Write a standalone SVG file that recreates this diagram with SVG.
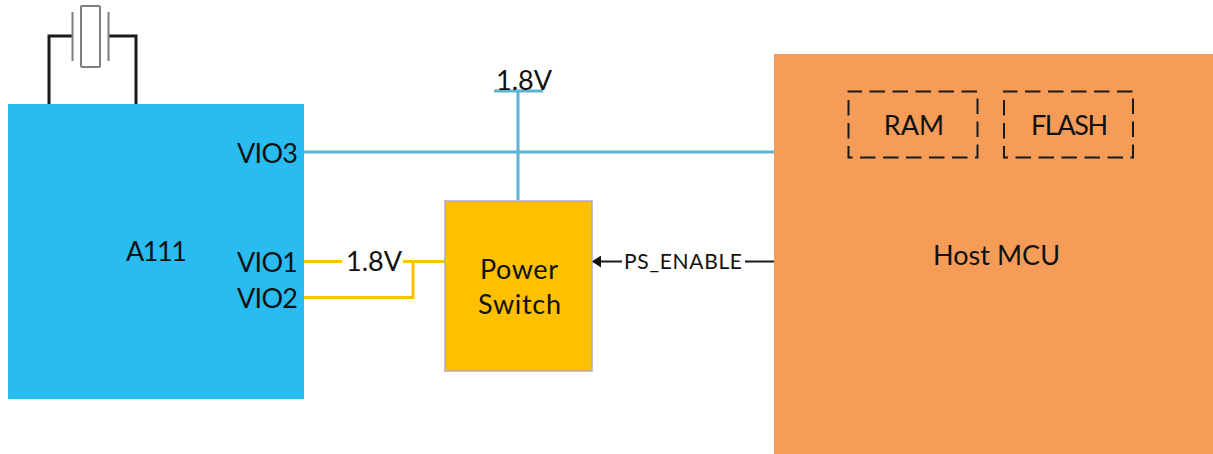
<svg xmlns="http://www.w3.org/2000/svg" width="1213" height="454" viewBox="0 0 1213 454">
<style>
text{font-family:"Lato","Open Sans",sans-serif;fill:#111;font-size:27px}
.m{text-anchor:middle}
.c{fill:none;stroke-width:3}
.blue{stroke:#5ab4d2}
.yel{stroke:#ffc000}
.blk{stroke:#1a1a1a}
.gry{stroke:#7f7f7f;fill:none}
.dash{fill:none;stroke:#1a1a1a;stroke-width:2;stroke-dasharray:15.500 7.500;stroke-dashoffset:2}
</style>
<defs><marker id="arr" markerWidth="10" markerHeight="12" refX="9" refY="6" orient="auto" markerUnits="userSpaceOnUse"><path d="M9 6L0 0V12Z" fill="#111"/></marker></defs>
<rect width="1213" height="454" fill="#fff"/>
<g id="connectors">
<path class="c blue" d="M302 152H775"/>
<path class="c blue" d="M518 200V91"/>
<path class="c blue" d="M494 91H543"/>
<path class="c yel" d="M302 261.500H342"/>
<path class="c yel" d="M403 261.500H445"/>
<path class="c yel" d="M302 297.500H413V261.500"/>
<path class="c blk" d="M49 104V36H73"/>
<path class="c blk" d="M136 104V36H109"/>
<path d="M775 261.500H745" stroke="#1a1a1a" stroke-width="2" fill="none"/>
<path d="M622 261.500H592" stroke="#1a1a1a" stroke-width="2" fill="none" marker-end="url(#arr)"/>
</g>
<g id="crystal">
<path class="gry" stroke-width="2" d="M72.500 12V61M108.500 12V61"/>
<rect class="gry" stroke-width="2" x="81" y="6" width="19" height="61" rx="1"/>
</g>
<g id="a111">
<rect x="8" y="104" width="296" height="295" fill="#29bcf1"/>
<text class="m" x="156.500" y="261" textLength="61">A111</text>
<text x="237" y="163" textLength="61">VIO3</text>
<text x="237" y="272" textLength="61">VIO1</text>
<text x="237" y="308" textLength="61">VIO2</text>
</g>
<g id="supply-label"><text class="m" x="524" y="90">1.8V</text></g>
<g id="vio-label"><text class="m" x="374" y="271">1.8V</text></g>
<g id="power-switch">
<rect x="445" y="201" width="147" height="170" fill="#ffc000" stroke="#b7a5c8" stroke-width="1.500"/>
<text class="m" x="519" y="279" textLength="78">Power</text>
<text class="m" x="519.500" y="314" textLength="83">Switch</text>
</g>
<g id="ps-enable-label"><text class="m" x="683" y="269" textLength="118" style="font-size:21px">PS_ENABLE</text></g>
<g id="host-mcu">
<rect x="774" y="54" width="439" height="400" fill="#f59d58"/>
<text class="m" x="996.500" y="265" textLength="127">Host MCU</text>
</g>
<g id="ram">
<rect class="dash" x="848.500" y="91.500" width="129" height="66"/>
<text class="m" x="914" y="135">RAM</text>
</g>
<g id="flash">
<rect class="dash" x="1004" y="91.500" width="129" height="66"/>
<text class="m" x="1069.500" y="135" textLength="77">FLASH</text>
</g>
</svg>
